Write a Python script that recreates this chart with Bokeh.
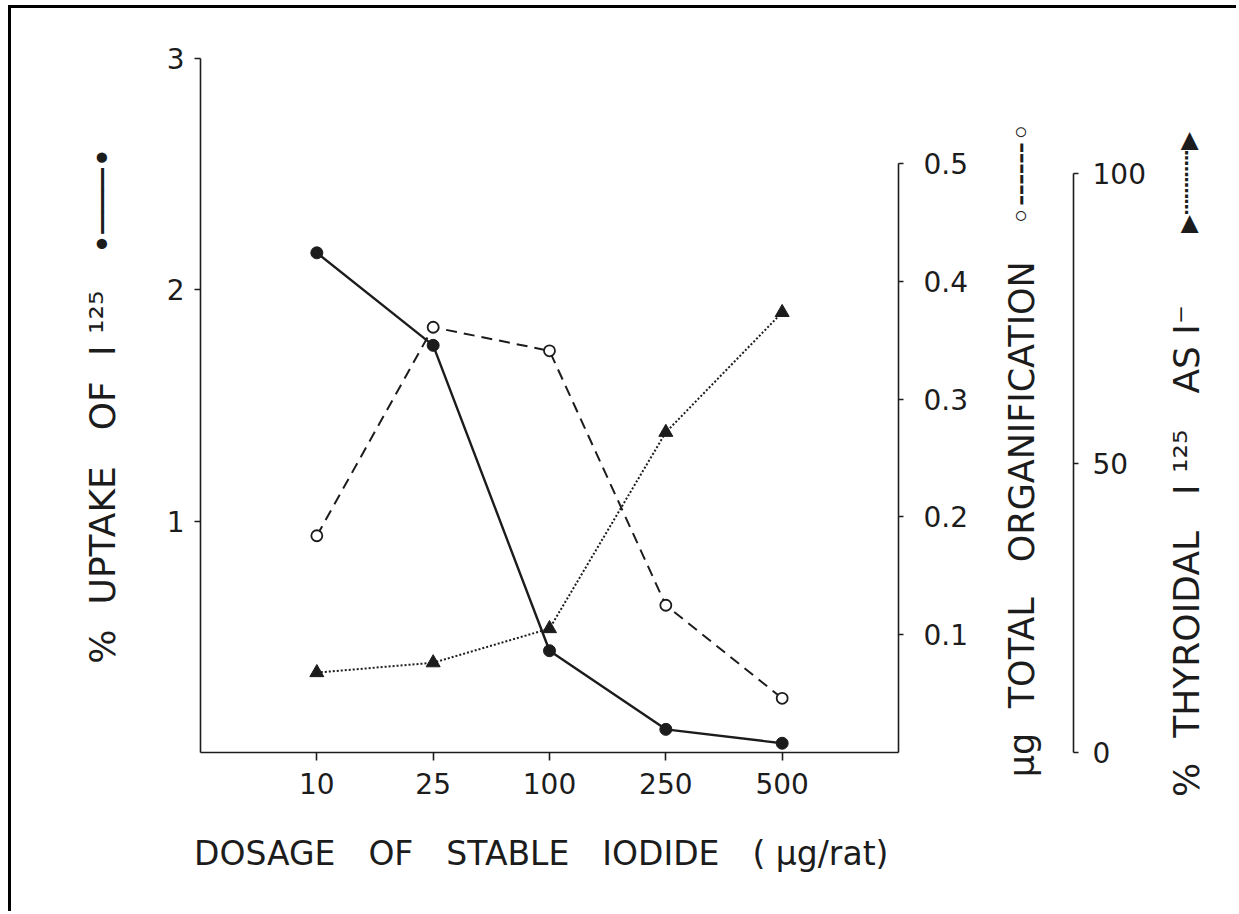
import math
from bokeh.plotting import figure
from bokeh.models import (FactorRange, Range1d, LinearAxis, FixedTicker,
                          ColumnDataSource)
from bokeh.core.properties import value
from bokeh.embed import file_html
from bokeh.resources import INLINE

# ---------------- data ----------------
doses = ["10", "25", "100", "250", "500"]             # µg/rat
uptake = [2.16, 1.76, 0.44, 0.10, 0.04]               # % uptake of I-125 (left axis)
organification = [0.184, 0.361, 0.341, 0.125, 0.046]  # µg total organification
thyroidal = [13.8, 15.5, 21.4, 55.3, 76.0]            # % thyroidal I-125 as I-

uptake_ticks = [1, 2, 3]
org_ticks = [0.1, 0.2, 0.3, 0.4, 0.5]
thy_ticks = [0, 50, 100]

G = "\u2002\u2002"     # wide word gap
g = "\u2002\u2009"     # narrower gap
EM = "\u2003"
x_title = ("DOSAGE" + G + "OF" + G + "STABLE" + G + "IODIDE" + G + "( μg/rat)" + "\u2002")
left_title = "%" + g + "UPTAKE" + G + "OF" + g + "I ¹²⁵" + EM + "•───•"
org_title = "μg" + g + "TOTAL" + G + "ORGANIFICATION" + EM + "◦╌╌╌◦"
thy_title = "%" + g + "THYROIDAL" + G + "I ¹²⁵" + G + "AS" + " I⁻" + EM + EM + "▸┈┈┈▸"

FONT = "DejaVu Sans"
INK = "#1c1c1c"
TICK_FS = "28px"

# frame geometry in page pixels (used only to place the side titles)
FL, FR, FT, FB = 200, 898, 58, 752

W, H = 1228, 906
p = figure(width=W, height=H,
           x_range=FactorRange(factors=doses, range_padding=0.5,
                               range_padding_units="absolute"),
           y_range=Range1d(0, 3),
           output_backend="svg", toolbar_location=None,
           min_border_left=189, min_border_right=341,
           min_border_top=50, min_border_bottom=162,
           background_fill_color="white", border_fill_color="white",
           outline_line_color=None)
p.styles = {"margin-left": "8px", "margin-top": "5px",
            "border-left": "3px solid #000", "border-top": "3px solid #000"}

p.xgrid.visible = False
p.ygrid.visible = False

org_top = 0.5 * 694 / 589
thy_top = 100 * 694 / 579
p.extra_y_ranges = {"org": Range1d(0, org_top), "thy": Range1d(0, thy_top)}

def style_axis(ax, fs=TICK_FS):
    ax.axis_line_color = INK
    ax.axis_line_width = 1.6
    ax.major_tick_line_color = INK
    ax.major_tick_line_width = 1.6
    ax.minor_tick_line_color = None
    ax.major_tick_in = 0
    ax.major_label_text_font = FONT
    ax.major_label_text_font_size = fs
    ax.major_label_text_color = INK
    ax.axis_label_text_font = FONT
    ax.axis_label_text_font_style = "normal"
    ax.axis_label_text_color = INK

# bottom axis
xa = p.xaxis[0]
style_axis(xa)
xa.major_tick_out = 8
xa.major_label_standoff = 12
xa.axis_label = x_title
xa.axis_label_text_font_size = "33px"
xa.axis_label_standoff = 37
xa.group_text_font_size = "0px"

# left axis
ya = p.yaxis[0]
style_axis(ya)
ya.ticker = FixedTicker(ticks=uptake_ticks)
ya.major_tick_out = 6
ya.major_label_standoff = 10
ya.axis_label = left_title
ya.axis_label_text_font_size = "36px"
ya.axis_label_standoff = 41

# right axis: organification (blank label only reserves room for its title)
oa = LinearAxis(y_range_name="org", ticker=FixedTicker(ticks=org_ticks),
                bounds=(0, 0.5))
style_axis(oa)
oa.major_tick_out = 5
oa.major_label_standoff = 20
oa.axis_label = "\u2003"
oa.axis_label_text_font_size = "20px"
oa.axis_label_standoff = 75
p.add_layout(oa, "right")

# right axis: thyroidal
ta = LinearAxis(y_range_name="thy", ticker=FixedTicker(ticks=thy_ticks),
                bounds=(0, 100))
style_axis(ta)
ta.major_tick_out = 5
ta.major_label_standoff = 14
p.add_layout(ta, "right")

# titles of the two right axes (reading upwards), drawn above the frame clip
def xdata(px):
    return -0.5 + (px - FL) * 6.0 / (FR - FL)

def ydata(py):
    return (FB - py) * 3.0 / (FB - FT)

p.text(x=[xdata(1021)], y=[ydata(449)], text=[org_title], angle=math.pi / 2,
       text_align="center", text_baseline="middle", text_font=value(FONT),
       text_font_size="35px", text_color=INK, level="overlay")
p.text(x=[xdata(1186)], y=[ydata(464)], text=[thy_title], angle=math.pi / 2,
       text_align="center", text_baseline="middle", text_font=value(FONT),
       text_font_size="36px", text_color=INK, level="overlay")

src = ColumnDataSource(dict(dose=doses, uptake=uptake, org=organification,
                            thy=thyroidal))

p.line("dose", "uptake", source=src, line_color=INK, line_width=2.4)
p.scatter("dose", "uptake", source=src, marker="circle", size=12,
          fill_color=INK, line_color=INK)

p.line("dose", "org", source=src, y_range_name="org", line_color=INK,
       line_width=2.0, line_dash="11 7")
p.scatter("dose", "org", source=src, y_range_name="org", marker="circle",
          size=11, fill_color="white", line_color=INK, line_width=1.8)

p.line("dose", "thy", source=src, y_range_name="thy", line_color=INK,
       line_width=2.0, line_dash="2 2")
p.scatter("dose", "thy", source=src, y_range_name="thy", marker="triangle",
          size=14, fill_color=INK, line_color=INK)

open("out.html", "w").write(file_html(p, INLINE))
